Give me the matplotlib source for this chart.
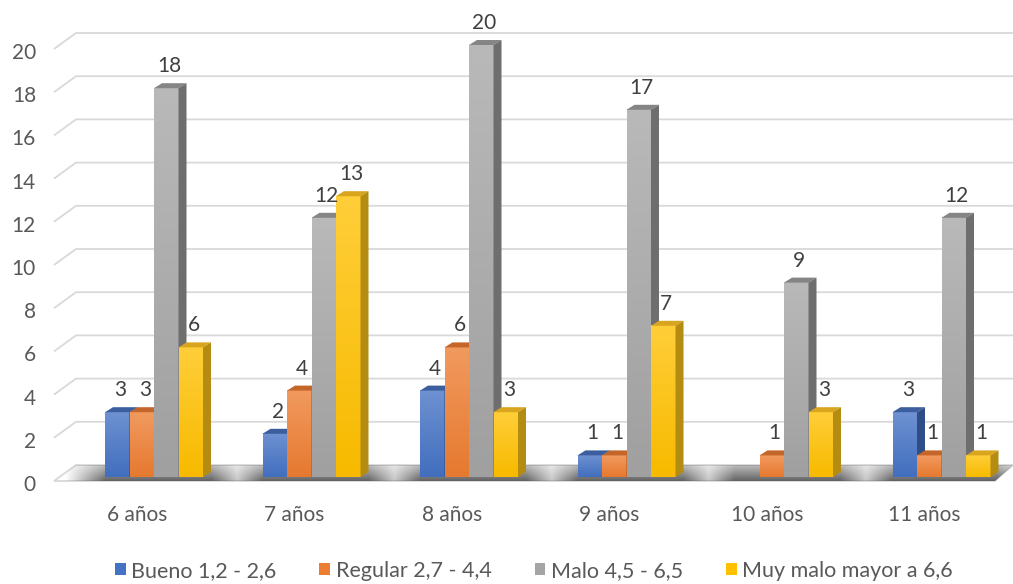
import numpy as np
import matplotlib
matplotlib.use('Agg')
import matplotlib.pyplot as plt
from matplotlib.patches import Polygon, Patch
from matplotlib.colors import to_rgb

# ============================================================
# Datos
# ============================================================
categories = ['6 años', '7 años', '8 años', '9 años', '10 años', '11 años']
series_names = ['Bueno 1,2 - 2,6', 'Regular 2,7 - 4,4', 'Malo 4,5 - 6,5', 'Muy malo mayor a 6,6']
bueno = [3, 2, 4, 1, np.nan, 3]
regular = [3, 4, 6, 1, 1, 1]
malo = [18, 12, 20, 17, 9, 12]
muy_malo = [6, 13, 3, 7, 3, 1]
yticks = list(range(0, 21, 2))

series = [bueno, regular, malo, muy_malo]
colors = ['#4472C4', '#ED7D31', '#A5A5A5', '#FFC000']
top_colors = ['#3C5E9E', '#C4652A', '#858585', '#D9A51E']
side_colors = ['#2F4D86', '#B0561C', '#6E6E6E', '#B58C12']

plt.rcParams['font.family'] = ['Lato', 'DejaVu Sans']
FS = 15

# ============================================================
# Escala (pixeles -> datos)
# ============================================================
W, H = 1013, 584
X0PX, SX = 154, 157.5   # centro del grupo 0, px por categoria
Y0PX, SY = 477, 21.6    # base de las barras, px por unidad


def px(d):
    return d / SX


def py(d_down):
    return -d_down / SY


fig = plt.figure(figsize=(W / 100, H / 100), dpi=100)
ax = fig.add_axes([0, 0, 1, 1])
ax.axis('off')

BW = px(24.5)
DX, DY = px(8), py(-5)         # profundidad de la barra
FRONT_DY, BACK_DY = py(4), py(-12)
x_front, x_back, x_right = px(54 - X0PX), px(76 - X0PX), px(W - X0PX)
x_floor_fr = px(995 - X0PX)

# lineas de cuadricula (pared del fondo)
for v in yticks[1:]:
    ax.plot([x_front, x_back, x_right], [v + FRONT_DY, v + BACK_DY, v + BACK_DY],
            color='#D9D9D9', lw=1.3, zorder=1, solid_capstyle='butt')
for v in yticks:
    ax.text(px(36 - X0PX), v + py(8), str(v), ha='right', va='center',
            fontsize=FS, color='#595959')

# piso
floor = Polygon([(x_front, FRONT_DY), (x_back, BACK_DY), (x_right, BACK_DY),
                 (x_floor_fr, FRONT_DY)], closed=True, facecolor='white',
                edgecolor='#D9D9D9', lw=1.3, zorder=2)
ax.add_patch(floor)

# sombra sobre el piso
xs = np.linspace(x_front, x_right, 600)
alpha = np.zeros_like(xs)
fade = px(40)
for i in range(len(categories)):
    left = i - 2 * BW
    right = i + 2 * BW + DX
    d = np.maximum(left - xs, xs - right)
    a = np.clip(1 - d / fade, 0, 1)
    alpha = np.maximum(alpha, a)
shadow = np.zeros((8, len(xs), 4))
shadow[..., :3] = 0.3
shadow[..., 3] = alpha[None, :] * np.linspace(0.85, 0.4, 8)[:, None]
im = ax.imshow(shadow, extent=[x_front, x_right, FRONT_DY, BACK_DY], origin='lower',
               aspect='auto', interpolation='bilinear', zorder=3)
im.set_clip_path(floor)

# barras 3D
z = 10
for i in range(len(categories)):
    for k, vals in enumerate(series):
        v = vals[i]
        if np.isnan(v):
            continue
        x0 = i - 2 * BW + k * BW
        x1 = x0 + BW
        base = np.array(to_rgb(colors[k]))
        light = base + (1 - base) * 0.22
        grad = np.linspace(base * 0.97, light, 32)[:, None, :]
        ax.imshow(grad, extent=[x0, x1, 0, v], origin='lower', aspect='auto',
                  interpolation='bilinear', zorder=z)
        ax.add_patch(Polygon([(x0, v), (x1, v), (x1 + DX, v + DY), (x0 + DX, v + DY)],
                             closed=True, facecolor=top_colors[k], lw=0, zorder=z + 1))
        ax.add_patch(Polygon([(x1, 0), (x1, v), (x1 + DX, v + DY), (x1 + DX, DY)],
                             closed=True, facecolor=side_colors[k], lw=0, zorder=z + 1))
        z += 2

# etiquetas de datos
for i in range(len(categories)):
    for k, vals in enumerate(series):
        v = vals[i]
        if np.isnan(v):
            continue
        x0 = i - 2 * BW + k * BW
        ax.text(x0 + BW / 2 + px(3), v + DY + py(-17), str(int(v)), ha='center', va='center',
                fontsize=FS, color='#404040', zorder=200)

# etiquetas de categoria
for i, c in enumerate(categories):
    ax.text(i + px(-17), py(38), c, ha='center', va='center', fontsize=FS, color='#595959')

ax.set_xlim(-X0PX / SX, (W - X0PX) / SX)
ax.set_ylim((Y0PX - H) / SY, Y0PX / SY)

handles = [Patch(facecolor=c) for c in colors]
fig.legend(handles, series_names, loc='lower center', bbox_to_anchor=(0.527, -0.028),
           ncol=4, frameon=False, handlelength=0.5, handleheight=0.5,
           handletextpad=0.25, columnspacing=2.0, fontsize=15.5, labelcolor='#595959')

plt.savefig('out.png', dpi=100)
